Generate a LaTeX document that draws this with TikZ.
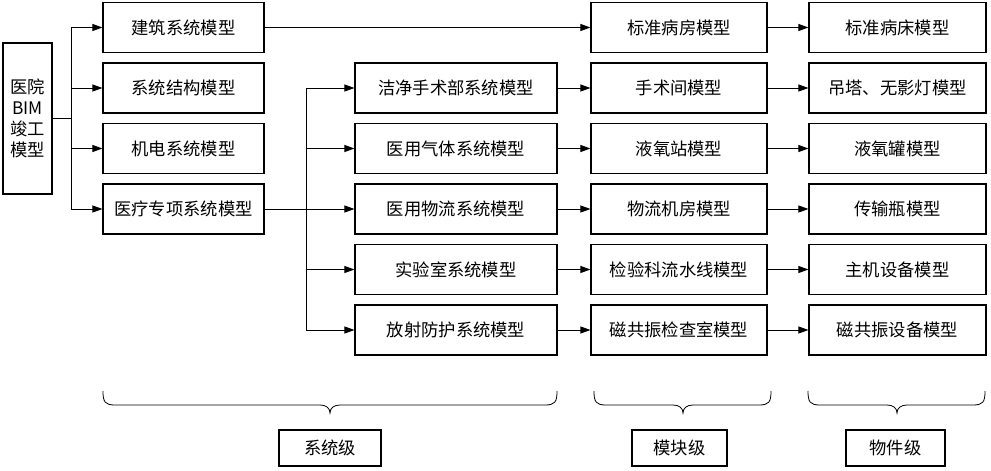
\documentclass[tikz,border=0pt]{standalone}
\usepackage{fontspec}
\setmainfont{Noto Sans CJK SC}
\usetikzlibrary{arrows.meta}
\newcommand{\levelbrace}[3]{% left x, right x, middle x
  \draw[brc] (#1,391) .. controls (#1,402) and (#1+2,405) .. (#1+12,405)
    -- (#3-10,405) .. controls (#3-4,405) and (#3,408) .. (#3,413)
    .. controls (#3,408) and (#3+4,405) .. (#3+10,405)
    -- (#2-12,405) .. controls (#2-2,405) and (#2,402) .. (#2,391);}
\begin{document}
\begin{tikzpicture}[x=1pt,y=-1pt,
  box/.style={draw=black, line width=1.1pt, inner sep=0pt, minimum height=50pt, font=\fontsize{17.3}{19}\selectfont},
  wa/.style={box, minimum width=161pt},
  wb/.style={box, minimum width=202pt},
  wc/.style={box, minimum width=176pt},
  wd/.style={box, minimum width=177pt},
  lvl/.style={draw=black, line width=1.1pt, inner sep=0pt, minimum height=36pt, font=\fontsize{17.3}{19}\selectfont},
  conn/.style={draw=black, line width=0.9pt},
  arr/.style={conn, -{Triangle[length=10pt,width=7pt]}},
  brc/.style={draw=black, line width=0.8pt}]
\useasboundingbox (0,0) rectangle (991,471);
% root
\node[box, minimum width=49pt, minimum height=151pt, align=center, font=\fontsize{17.3}{21}\selectfont] (root) at (27.5,118.5) {医院\\BIM\\竣工\\模型};
% column a
\node[wa] (a1) at (183.5,27.5) {建筑系统模型};
\node[wa] (a2) at (183.5,88) {系统结构模型};
\node[wa] (a3) at (183.5,148.5) {机电系统模型};
\node[wa] (a4) at (183.5,209) {医疗专项系统模型};
% column b
\node[wb] (b1) at (456,88) {洁净手术部系统模型};
\node[wb] (b2) at (456,148.5) {医用气体系统模型};
\node[wb] (b3) at (456,209) {医用物流系统模型};
\node[wb] (b4) at (456,269.5) {实验室系统模型};
\node[wb] (b5) at (456,330) {放射防护系统模型};
% column c
\node[wc] (c0) at (679,27.5) {标准病房模型};
\node[wc] (c1) at (679,88) {手术间模型};
\node[wc] (c2) at (679,148.5) {液氧站模型};
\node[wc] (c3) at (679,209) {物流机房模型};
\node[wc] (c4) at (679,269.5) {检验科流水线模型};
\node[wc] (c5) at (679,330) {磁共振检查室模型};
% column d
\node[wd] (d0) at (897.5,27.5) {标准病床模型};
\node[wd] (d1) at (897.5,88) {吊塔、无影灯模型};
\node[wd] (d2) at (897.5,148.5) {液氧罐模型};
\node[wd] (d3) at (897.5,209) {传输瓶模型};
\node[wd] (d4) at (897.5,269.5) {主机设备模型};
\node[wd] (d5) at (897.5,330) {磁共振设备模型};
% level labels
\node[lvl, minimum width=102pt] (l1) at (330,448) {系统级};
\node[lvl, minimum width=95pt] (l2) at (679.5,448) {模块级};
\node[lvl, minimum width=99pt] (l3) at (895.5,448) {物件级};
% connectors root -> a
\coordinate (j1) at (71,118.5);
\draw[conn] (root.east) -- (j1);
\draw[conn] (j1 |- a1) -- (j1 |- a4);
\foreach \n in {a1,a2,a3,a4} \draw[arr] (j1 |- \n) -- (\n.west);
% connectors a4 -> b
\coordinate (j2) at (306,209);
\draw[conn] (a4.east) -- (j2);
\draw[conn] (j2 |- b1) -- (j2 |- b5);
\foreach \n in {b1,b2,b3,b4,b5} \draw[arr] (j2 |- \n) -- (\n.west);
% a1 -> c0
\draw[arr] (a1.east) -- (c0.west);
% b -> c
\foreach \i in {1,...,5} \draw[arr] (b\i.east) -- (c\i.west);
% c -> d
\foreach \i in {0,...,5} \draw[arr] (c\i.east) -- (d\i.west);
% braces
\levelbrace{103}{557}{330}
\levelbrace{594}{771}{683}
\levelbrace{808}{985}{897}
\end{tikzpicture}
\end{document}
